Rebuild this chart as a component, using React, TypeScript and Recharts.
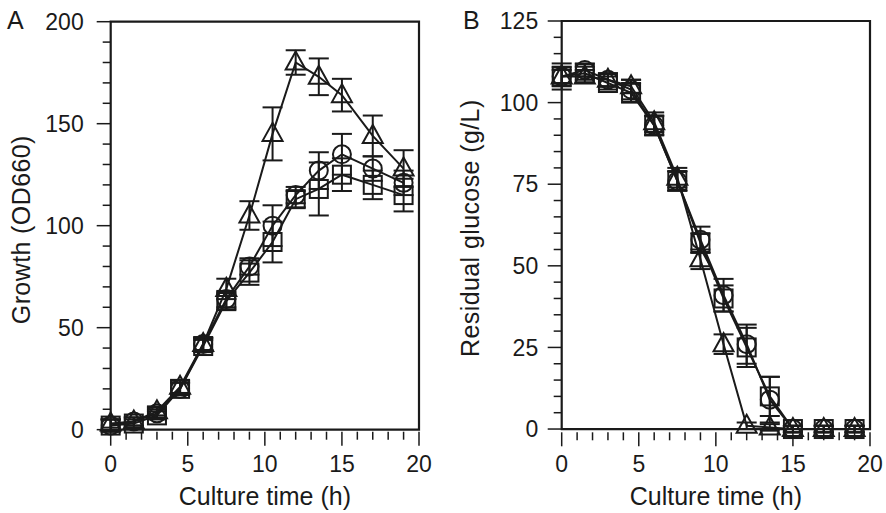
import { ErrorBar, Label, Line, LineChart, ReferenceArea, XAxis, YAxis } from "recharts";

// sampling times (h)
const times = [0, 1.5, 3, 4.5, 6, 7.5, 9, 10.5, 12, 13.5, 15, 17, 19];

// panel A: growth (OD660)
const growthCircle = [2, 4, 8, 20, 42, 64, 80, 100, 115, 127, 135, 128, 121];
const growthCircleErr = [3, 2, 2, 3, 3, 4, 4, 10, 4, 9, 10, 6, 6];
const growthSquare = [2, 3, 7, 20, 41, 63, 77, 92, 113, 118, 125, 120, 115];
const growthSquareErr = [3, 2, 2, 3, 3, 4, 6, 10, 4, 13, 8, 7, 8];
const growthTriangle = [3, 4, 9, 21, 42, 69, 105, 145, 180, 173, 164, 144, 128];
const growthTriangleErr = [2, 2, 2, 3, 3, 5, 7, 13, 6, 9, 8, 10, 9];

// panel B: residual glucose (g/L)
const glucoseCircle = [108, 110, 107, 104, 93, 76, 58, 41, 26, 9, 0, 0, 0];
const glucoseCircleErr = [4, 2, 2, 3, 3, 3, 4, 5, 6, 7, 1, 1, 1];
const glucoseSquare = [108, 109, 106, 103, 93, 76, 57, 40, 25, 10, 0, 0, 0];
const glucoseSquareErr = [3, 2, 2, 3, 3, 3, 3, 4, 6, 6, 1, 1, 1];
const glucoseTriangle = [108, 108, 107, 105, 94, 77, 52, 26, 1, 0.5, 0, 0, 0];
const glucoseTriangleErr = [2, 2, 2, 2, 3, 3, 3, 3, 1, 1, 1, 1, 1];

const xTicks = [0, 1, 2, 3, 4, 5, 6, 7, 8, 9, 10, 11, 12, 13, 14, 15, 16, 17, 18, 19, 20];
const growthTicks = [0, 10, 20, 30, 40, 50, 60, 70, 80, 90, 100, 110, 120, 130, 140, 150, 160, 170, 180, 190, 200];
const glucoseTicks = [0, 5, 10, 15, 20, 25, 30, 35, 40, 45, 50, 55, 60, 65, 70, 75, 80, 85, 90, 95, 100, 105, 110, 115, 120, 125];

const INK = "#1a1a1a";
const FONT = "'Liberation Sans', Arial, sans-serif";

const buildRows = (c: number[], ce: number[], s: number[], se: number[], tr: number[], tre: number[]) =>
  times.map((t, i) => ({ t, c: c[i], cErr: ce[i], s: s[i], sErr: se[i], tr: tr[i], trErr: tre[i] }));

const growthData = buildRows(growthCircle, growthCircleErr, growthSquare, growthSquareErr, growthTriangle, growthTriangleErr);
const glucoseData = buildRows(glucoseCircle, glucoseCircleErr, glucoseSquare, glucoseSquareErr, glucoseTriangle, glucoseTriangleErr);

const marker = (shape: "circle" | "square" | "triangle") => (props: any) => {
  const { cx, cy, index } = props;
  if (cx == null || cy == null) return <g key={`${shape}-${index}`} />;
  const common = { fill: "none", stroke: INK, strokeWidth: 2 };
  if (shape === "circle") return <circle key={`${shape}-${index}`} cx={cx} cy={cy} r={9} {...common} />;
  if (shape === "square") return <rect key={`${shape}-${index}`} x={cx - 9} y={cy - 9} width={18} height={18} {...common} />;
  return (
    <polygon
      key={`${shape}-${index}`}
      points={`${cx},${cy - 11} ${cx - 10},${cy + 7} ${cx + 10},${cy + 7}`}
      {...common}
    />
  );
};

const XTick = (props: any) => {
  const { x, y, payload } = props;
  const major = payload.value % 5 === 0;
  return (
    <g>
      <line x1={x} y1={y} x2={x} y2={y + (major ? 14 : 8)} stroke={INK} strokeWidth={1.5} />
      {major && (
        <text x={x} y={y + 40} textAnchor="middle" fontSize={23} fontFamily={FONT} fill={INK}>
          {payload.value}
        </text>
      )}
    </g>
  );
};

const makeYTick = (step: number, gap: number) => (props: any) => {
  const { x, y, payload } = props;
  const major = payload.value % step === 0;
  return (
    <g>
      <line x1={x} y1={y} x2={x - (major ? 14 : 8)} y2={y} stroke={INK} strokeWidth={1.5} />
      {major && (
        <text x={x - gap} y={y} dy="0.36em" textAnchor="end" fontSize={23} fontFamily={FONT} fill={INK}>
          {payload.value}
        </text>
      )}
    </g>
  );
};

type PanelProps = {
  data: any[];
  yMax: number;
  yTicks: number[];
  yStep: number;
  labelGap: number;
  yTitle: string;
  panel: string;
  margin: { top: number; right: number; bottom: number; left: number };
  titleX: number;
  titleShift: number;
  panelX: number;
};

const Panel = ({ data, yMax, yTicks, yStep, labelGap, yTitle, panel, margin, titleX, titleShift, panelX }: PanelProps) => (
  <LineChart width={443} height={513} data={data} margin={margin}>
    <XAxis
      dataKey="t"
      type="number"
      domain={[0, 20]}
      ticks={xTicks}
      interval={0}
      height={60}
      tickSize={0}
      tickMargin={0}
      axisLine={false}
      tick={<XTick />}
    >
      <Label
        content={(p: any) => (
          <text
            x={p.viewBox.x + p.viewBox.width / 2}
            y={p.viewBox.y + 73}
            textAnchor="middle"
            fontSize={25}
            fontFamily={FONT}
            fill={INK}
          >
            Culture time (h)
          </text>
        )}
      />
    </XAxis>
    <YAxis
      type="number"
      domain={[0, yMax]}
      ticks={yTicks}
      interval={0}
      width={60}
      tickSize={0}
      tickMargin={0}
      axisLine={false}
      tick={makeYTick(yStep, labelGap)}
    >
      <Label
        content={(p: any) => {
          const cy = p.viewBox.y + p.viewBox.height / 2 + titleShift;
          return (
            <g>
              <text
                x={titleX}
                y={cy}
                transform={`rotate(-90 ${titleX} ${cy})`}
                textAnchor="middle"
                fontSize={25}
                letterSpacing={0.4}
                fontFamily={FONT}
                fill={INK}
              >
                {yTitle}
              </text>
              <text x={panelX} y={29} fontSize={25} fontFamily={FONT} fill={INK}>
                {panel}
              </text>
            </g>
          );
        }}
      />
    </YAxis>
    <ReferenceArea x1={0} x2={20} y1={0} y2={yMax} fill="none" stroke={INK} strokeWidth={2.2} />
    <Line type="linear" dataKey="s" stroke={INK} strokeWidth={2} dot={marker("square")} isAnimationActive={false}>
      <ErrorBar dataKey="sErr" direction="y" width={10} stroke={INK} strokeWidth={2} />
    </Line>
    <Line type="linear" dataKey="c" stroke={INK} strokeWidth={2} dot={marker("circle")} isAnimationActive={false}>
      <ErrorBar dataKey="cErr" direction="y" width={10} stroke={INK} strokeWidth={2} />
    </Line>
    <Line type="linear" dataKey="tr" stroke={INK} strokeWidth={2} dot={marker("triangle")} isAnimationActive={false}>
      <ErrorBar dataKey="trErr" direction="y" width={10} stroke={INK} strokeWidth={2} />
    </Line>
  </LineChart>
);

export default function App() {
  return (
    <div style={{ position: "absolute", left: 0, top: 0, width: 886, height: 513, background: "#fff" }}>
      <div style={{ position: "absolute", left: 0, top: 0 }}>
        <Panel
          data={growthData}
          yMax={200}
          yTicks={growthTicks}
          yStep={50}
          labelGap={27}
          yTitle="Growth (OD660)"
          panel="A"
          margin={{ top: 21.7, right: 24, bottom: 21.3, left: 50.7 }}
          titleX={30}
          titleShift={3}
          panelX={7}
        />
      </div>
      <div style={{ position: "absolute", left: 443, top: 0 }}>
        <Panel
          data={glucoseData}
          yMax={125}
          yTicks={glucoseTicks}
          yStep={25}
          labelGap={23.5}
          yTitle="Residual glucose (g/L)"
          panel="B"
          margin={{ top: 21, right: 16, bottom: 20.7, left: 58.7 }}
          titleX={36}
          titleShift={1.5}
          panelX={20}
        />
      </div>
    </div>
  );
}
